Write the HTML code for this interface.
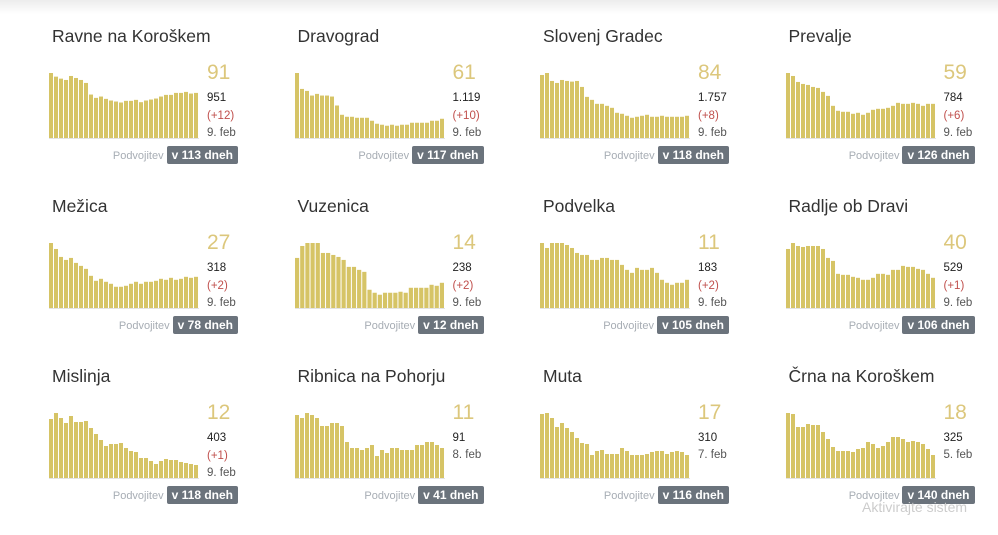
<!DOCTYPE html>
<html><head><meta charset="utf-8">
<style>
body{margin:0;width:998px;height:509px;background:#fff;font-family:"Liberation Sans",sans-serif;position:relative;overflow:hidden}
.shadow{position:absolute;left:0;top:0;width:998px;height:14px;background:linear-gradient(#ececec,#fff)}
.card{position:absolute;width:240px;height:165px}
.title{position:absolute;left:3px;top:-4px;font-size:17.5px;color:#333;white-space:nowrap}
svg.bars{position:absolute;left:0;top:42px}
.big{position:absolute;left:158px;top:31px;font-size:21px;color:#dcc77c}
.tot{position:absolute;left:158px;top:62px;font-size:11.5px;color:#222}
.inc{position:absolute;left:158px;top:80px;font-size:11.5px;color:#c0504d}
.date{position:absolute;left:158px;font-size:11.5px;color:#555}
.pod{position:absolute;right:51px;top:116px;font-size:11px;color:#a7adb4;white-space:nowrap}
.pod span{display:inline-block;background:#6b737c;color:#fff;font-weight:bold;font-size:12px;padding:2px 5px;border-radius:2px;margin-left:3px}
.wm{position:absolute;left:862px;top:499px;font-size:14px;color:#ccc}
</style></head><body>
<div class="shadow"></div>
<div id="root"></div>
<div class="wm">Aktivirajte sistem</div>
<script>
const names=["Ravne na Koroškem","Dravograd","Slovenj Gradec","Prevalje","Mežica","Vuzenica","Podvelka","Radlje ob Dravi","Mislinja","Ribnica na Pohorju","Muta","Črna na Koroškem"];
const active=["91","61","84","59","27","14","11","40","12","11","17","18"];
const totals=["951","1.119","1.757","784","318","238","183","529","403","91","310","325"];
const increases=["(+12)","(+10)","(+8)","(+6)","(+2)","(+2)","(+2)","(+1)","(+1)","","",""];
const dates=["9. feb","9. feb","9. feb","9. feb","9. feb","9. feb","9. feb","9. feb","9. feb","8. feb","7. feb","5. feb"];
const doubling=["v 113 dneh","v 117 dneh","v 118 dneh","v 126 dneh","v 78 dneh","v 12 dneh","v 105 dneh","v 106 dneh","v 118 dneh","v 41 dneh","v 116 dneh","v 140 dneh"];
const s0=[196,185,179,175,187,181,175,166,131,121,125,118,113,110,107,112,112,115,108,113,116,119,125,130,130,136,136,139,134,136];
const s1=[196,148,142,128,133,128,128,125,98,70,64,64,61,61,61,52,43,40,37,40,37,40,40,46,46,46,46,52,52,58];
const s2=[190,196,172,166,175,172,170,172,154,124,115,103,103,97,91,76,73,67,61,64,67,70,64,64,67,64,64,64,64,67];
const s3=[196,187,169,163,160,154,151,139,127,97,82,79,79,73,76,70,76,85,88,88,91,97,106,103,103,106,103,97,103,103];
const s4=[196,178,154,145,151,136,127,118,97,82,88,79,73,64,64,67,73,79,73,79,79,82,88,85,91,85,88,94,91,94];
const s5=[151,187,196,196,196,166,166,160,154,145,124,124,115,109,55,46,40,46,46,46,49,46,61,61,61,61,70,67,76];
const s6=[196,181,196,196,196,190,181,166,160,160,145,145,151,151,145,145,130,115,106,121,115,115,121,106,85,76,70,76,76,85];
const s7=[178,196,187,184,187,187,187,178,151,142,103,100,100,94,91,85,85,91,103,103,100,115,115,127,124,124,118,115,103,91];
const s8=[177,195,180,165,186,168,168,171,150,132,114,96,102,102,105,90,81,78,60,60,51,42,51,57,54,54,48,45,42,39];
const s9=[189,180,195,189,180,156,156,165,165,156,108,90,90,84,90,99,66,84,75,90,90,84,84,84,99,99,108,108,99,90];
const s10=[192,195,180,153,165,150,138,120,105,102,69,81,84,72,72,72,90,81,69,69,69,72,78,81,81,72,78,81,78,69];
const s11=[195,192,153,153,162,159,159,138,117,93,81,81,81,78,87,90,108,102,90,96,108,123,123,117,108,111,108,102,87,69];
const series=[s0,s1,s2,s3,s4,s5,s6,s7,s8,s9,s10,s11];
const NS="http://www.w3.org/2000/svg";
const root=document.getElementById('root');
const W=150,H=66;
names.forEach((nm,i)=>{
  const col=i%4,row=Math.floor(i/4);
  const c=document.createElement('div');c.className='card';
  c.style.left=(49+col*245.5)+'px';c.style.top=(30+row*170)+'px';
  
  
  const hasInc=increases[i]!=="";
  c.innerHTML=`<div class="title">${nm}</div>
<div class="big">${active[i]}</div>
<div class="tot">${totals[i]}</div>
${hasInc?`<div class="inc">${increases[i]}</div>`:''}
<div class="date" style="top:${hasInc?97:79}px">${dates[i]}</div>
<div class="pod">Podvojitev<span>${doubling[i]}</span></div>`;
  const svg=document.createElementNS(NS,'svg');svg.setAttribute('class','bars');
  svg.setAttribute('width',W);svg.setAttribute('height',H+2);
  
  
  const d=series[i],n=d.length,bw=W/n;
  const max=Math.max(...d);
  const y=v=>H-(v/max)*65;
  d.forEach((v,j)=>{
    const r=document.createElementNS(NS,'rect');
    r.setAttribute('x',j*bw);r.setAttribute('width',bw-1);
    r.setAttribute('y',y(v));r.setAttribute('height',H-y(v));
    r.setAttribute('fill','#d6c466');
    
    
    svg.appendChild(r);
  });
  const l=document.createElementNS(NS,'line');
  l.setAttribute('x1',0);l.setAttribute('x2',W);l.setAttribute('y1',H+0.5);l.setAttribute('y2',H+0.5);
  l.setAttribute('stroke','#e3e3e3');
  
  
  svg.appendChild(l);
  c.appendChild(svg);
  root.appendChild(c);
});
</script>
</body></html>
